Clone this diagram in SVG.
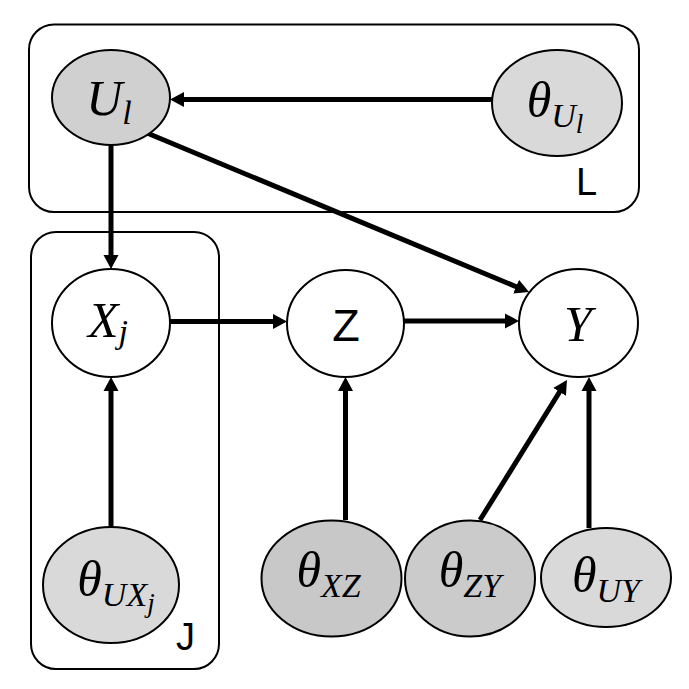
<svg xmlns="http://www.w3.org/2000/svg" width="689" height="689" viewBox="0 0 689 689">
<style>
.plate{fill:none;stroke:#000;stroke-width:2}
.node{stroke:#000;stroke-width:2}
.white{fill:#fff}
.g1{fill:#d0d0d0}
.g2{fill:#d9d9d9}
.g3{fill:#c8c8c8}
.g4{fill:#cbcbcb}
.edge{stroke:#000;stroke-width:5;fill:none;marker-end:url(#arr)}
.math{font-family:"Liberation Serif","DejaVu Serif",serif;font-style:italic;font-size:50px;fill:#000;text-anchor:middle}
.sub{font-size:34px}
.subsub{font-size:27px}
.lab{font-family:"Liberation Sans",Arial,sans-serif;font-size:38px;fill:#000}
</style>
<defs>
<marker id="arr" markerUnits="userSpaceOnUse" markerWidth="14" markerHeight="16" refX="4" refY="8" orient="auto">
<path d="M0,0.5 L14,8 L0,15.5 z" fill="#000"/>
</marker>
</defs>
<rect width="689" height="689" fill="#fff"/>
<g id="plate-L">
<rect class="plate" x="29" y="24.5" width="610" height="187.5" rx="25"/>
<text class="lab" x="576" y="195">L</text>
</g>
<g id="plate-J">
<rect class="plate" x="31" y="232" width="188" height="437" rx="25"/>
<text class="lab" x="176" y="650">J</text>
</g>
<g id="connectors">
<line class="edge" x1="492" y1="99.5" x2="180" y2="99.5"/>
<line class="edge" x1="111" y1="145" x2="111" y2="259"/>
<line class="edge" x1="147" y1="133" x2="519.8" y2="288.2"/>
<line class="edge" x1="170" y1="321.5" x2="277" y2="321.5"/>
<line class="edge" x1="404" y1="321" x2="509" y2="321"/>
<line class="edge" x1="111" y1="527" x2="111" y2="387"/>
<line class="edge" x1="345.5" y1="520" x2="345.5" y2="387"/>
<line class="edge" x1="480" y1="520" x2="561.7" y2="388.5"/>
<line class="edge" x1="589" y1="528" x2="589" y2="387"/>
</g>
<g id="node-Ul">
<ellipse class="node g1" cx="111" cy="97.5" rx="59" ry="47.5"/>
<text class="math" x="109" y="115">U<tspan class="sub" dy="9">l</tspan></text>
</g>
<g id="node-thetaUl">
<ellipse class="node g2" cx="557" cy="103" rx="65" ry="53"/>
<text class="math" x="555" y="117">θ<tspan class="sub" dy="10">U</tspan><tspan class="subsub" dy="6">l</tspan></text>
</g>
<g id="node-Xj">
<ellipse class="node white" cx="111" cy="323" rx="59" ry="54"/>
<text class="math" x="108" y="337">X<tspan class="sub" dy="6">j</tspan></text>
</g>
<g id="node-Z">
<ellipse class="node white" cx="345.5" cy="323.5" rx="58.5" ry="53.5"/>
<text x="346" y="341" font-family="'Liberation Sans',Arial,sans-serif" font-size="45" text-anchor="middle">Z</text>
</g>
<g id="node-Y">
<ellipse class="node white" cx="578.5" cy="323" rx="59.5" ry="54"/>
<text class="math" x="578" y="341">Y</text>
</g>
<g id="node-thetaUXj">
<ellipse class="node g2" cx="111" cy="585" rx="68" ry="58"/>
<text class="math" x="116" y="596">θ<tspan class="sub" dy="10">UX</tspan><tspan class="subsub" dy="6">j</tspan></text>
</g>
<g id="node-thetaXZ">
<ellipse class="node g3" cx="331.5" cy="578.5" rx="70" ry="58" stroke-width="2.5"/>
<text class="math" x="328.5" y="587">θ<tspan class="sub" dy="10">XZ</tspan></text>
</g>
<g id="node-thetaZY">
<ellipse class="node g4" cx="470" cy="578.5" rx="65" ry="58"/>
<text class="math" x="470" y="587">θ<tspan class="sub" dy="10">ZY</tspan></text>
</g>
<g id="node-thetaUY">
<ellipse class="node g2" cx="606" cy="577.5" rx="65" ry="49.5"/>
<text class="math" x="606" y="592">θ<tspan class="sub" dy="10">UY</tspan></text>
</g>
</svg>
